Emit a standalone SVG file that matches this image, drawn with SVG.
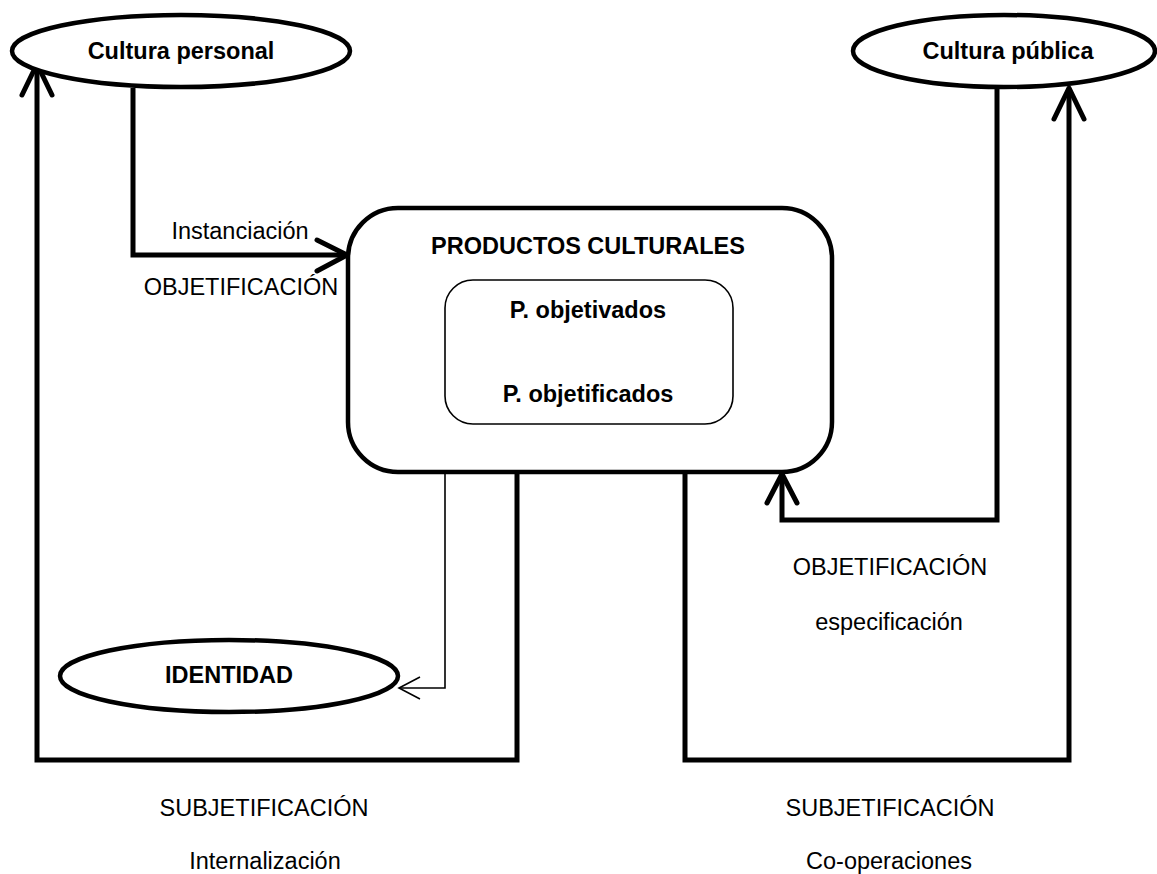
<svg xmlns="http://www.w3.org/2000/svg" width="1157" height="874" viewBox="0 0 1157 874">
<style>
.t{font-family:"Liberation Sans",Arial,sans-serif;font-size:23.5px;fill:#000;text-anchor:middle}
.b{font-weight:bold}
.thick{fill:none;stroke:#000;stroke-width:5;stroke-linejoin:miter}
.head{fill:none;stroke:#000;stroke-width:5;stroke-linecap:round;stroke-linejoin:round}
.thin{fill:none;stroke:#000;stroke-width:1.6}
.node{fill:#fff;stroke:#000;stroke-width:4.5}
</style>
<rect width="1157" height="874" fill="#fff"/>
<g id="connectors">
<path class="thick" d="M133,88 V255 H346"/>
<path class="head" d="M317,240 L347,255 L317,271"/>
<path class="thick" d="M517,473 V760 H37 V65"/>
<path class="head" d="M22,95 L37,64 L52,95"/>
<path class="thin" d="M445,473 V688 H400"/>
<path class="thin" d="M420,677 L399,688 L420,699"/>
<path class="thick" d="M685,473 V760 H1069 V89"/>
<path class="head" d="M1054,119 L1069,88 L1084,119"/>
<path class="thick" d="M997,88 V520 H782 V475"/>
<path class="head" d="M767,503 L782,474 L797,503"/>
</g>
<g id="cultura-personal">
<ellipse class="node" cx="181" cy="51" rx="169" ry="36"/>
<text class="t b" x="181" y="59">Cultura personal</text>
</g>
<g id="cultura-publica">
<ellipse class="node" cx="1004" cy="51" rx="151" ry="36"/>
<text class="t b" x="1008" y="59">Cultura pública</text>
</g>
<g id="productos">
<rect class="node" x="348" y="208" width="484" height="264" rx="50" ry="50" stroke-width="5"/>
<text class="t b" x="588" y="254">PRODUCTOS CULTURALES</text>
</g>
<g id="inner">
<rect x="445" y="280" width="288" height="144" rx="28" ry="28" fill="#fff" stroke="#000" stroke-width="1.6"/>
<text class="t b" x="588" y="318">P. objetivados</text>
<text class="t b" x="588" y="402">P. objetificados</text>
</g>
<g id="identidad">
<ellipse class="node" cx="229" cy="676" rx="169" ry="36"/>
<text class="t b" x="229" y="683">IDENTIDAD</text>
</g>
<g id="labels">
<text class="t" x="240" y="239">Instanciación</text>
<text class="t" x="241" y="295">OBJETIFICACIÓN</text>
<text class="t" x="890" y="575">OBJETIFICACIÓN</text>
<text class="t" x="889" y="630">especificación</text>
<text class="t" x="264" y="816">SUBJETIFICACIÓN</text>
<text class="t" x="265" y="869">Internalización</text>
<text class="t" x="890" y="816">SUBJETIFICACIÓN</text>
<text class="t" x="889" y="869">Co-operaciones</text>
</g>
</svg>
